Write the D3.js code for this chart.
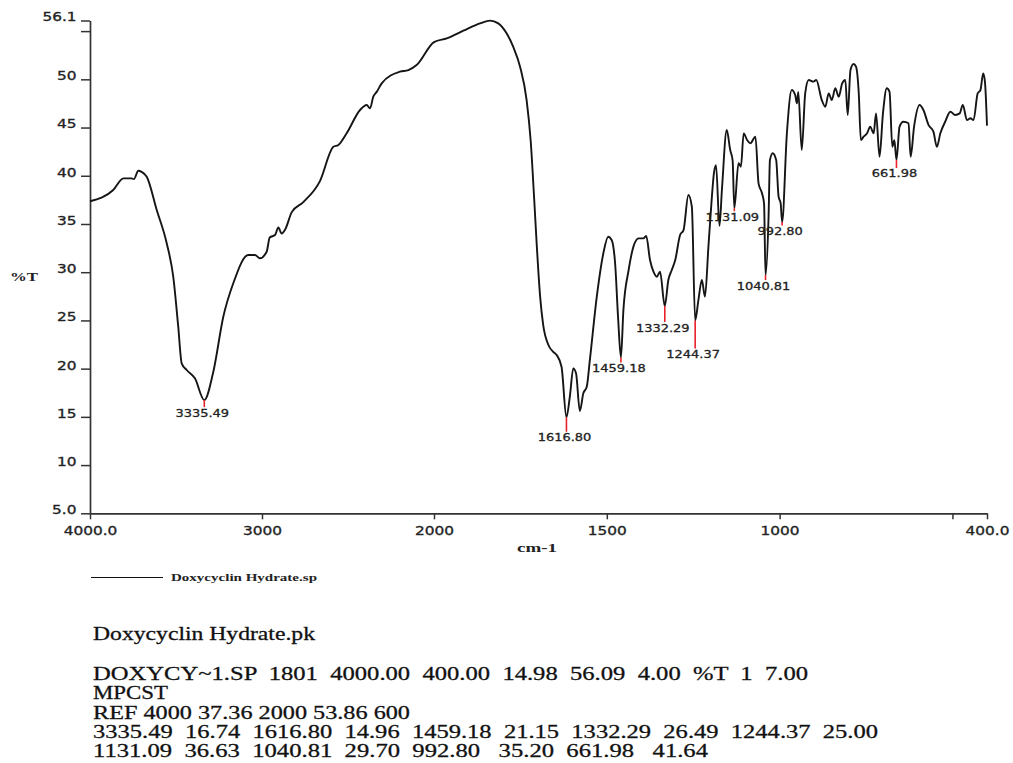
<!DOCTYPE html>
<html><head><meta charset="utf-8">
<script src="https://cdn.jsdelivr.net/npm/d3@7"></script>
<style>body{margin:0;background:#fff} svg{display:block} text{white-space:pre}</style>
</head><body><svg id="c" width="1013" height="763"></svg>
<script>
// ---- data ----
const wavenumbers = [
  4000, 3865, 3806, 3758, 3745, 3719, 3700, 3670, 3612, 3554,
  3516, 3487, 3467, 3438, 3390, 3335.49, 3283, 3225, 3167, 3080,
  3041, 3012, 2973, 2955, 2924, 2905, 2886, 2866, 2827, 2760, 2663,
  2585, 2556, 2508, 2430, 2391, 2372, 2353, 2333, 2304, 2198,
  2149, 2101, 2000, 1963, 1915, 1867, 1838, 1814, 1790, 1771,
  1751, 1732, 1720, 1710, 1703, 1693, 1684, 1669, 1655, 1645,
  1631, 1616.80, 1607, 1597, 1589, 1578, 1568, 1558, 1549, 1529,
  1510, 1496, 1486, 1476, 1467, 1459.18, 1452, 1437, 1423, 1408,
  1394, 1386, 1375, 1365, 1355, 1346, 1332.29, 1322, 1312, 1302,
  1288, 1278, 1264, 1254, 1244.37, 1235, 1225, 1216, 1206, 1196,
  1190, 1184, 1174, 1167, 1153, 1143, 1136, 1131.09, 1119, 1112,
  1104, 1094, 1085, 1070, 1061, 1051, 1045, 1040.81, 1032, 1028,
  1020, 1010, 1003, 997, 992.80, 979, 965, 955, 950, 946,
  936, 926, 916, 902, 894, 878, 868, 858, 849, 839,
  829, 819, 810, 803, 795, 786, 779, 771, 765, 757,
  747, 738, 728, 721, 711, 701, 690, 682, 674, 668,
  661.98, 653, 642, 627, 621, 611, 595, 584, 569, 555,
  545, 535, 521, 506, 492, 479, 470, 458, 448, 439,
  427, 419, 411, 406, 400
];
const transmittance = [
  37.36, 38.52, 39.73, 39.73, 39.65, 40.52, 40.40, 39.90, 36.45, 33.00,
  29.53, 24.35, 20.55, 19.86, 19.00, 16.74, 19.68, 25.38, 28.85, 31.78,
  31.78, 31.44, 32.12, 33.60, 33.85, 34.64, 34.00, 34.40, 36.23, 37.27, 39.45,
  43.00, 43.19, 44.40, 46.82, 47.34, 46.99, 48.20, 48.70, 49.58, 50.79,
  50.96, 51.48, 53.86, 54.25, 55.04, 55.80, 56.09, 55.80, 54.77, 53.38,
  51.31, 47.85, 43.50, 37.50, 33.00, 27.50, 24.50, 22.45, 21.75, 21.41,
  20.20, 14.96, 17.09, 20.03, 19.51, 15.60, 17.44, 18.12, 20.90, 27.46,
  31.96, 33.68, 33.34, 30.93, 25.04, 21.15, 26.08, 30.20, 32.65, 33.51,
  33.51, 33.75, 31.26, 30.05, 29.53, 30.05, 26.49, 29.19, 30.23, 31.26,
  33.86, 34.37, 38.00, 36.79, 25.00, 27.11, 29.19, 27.46, 32.65, 37.83,
  40.30, 41.10, 34.80, 38.52, 44.74, 42.67, 41.60, 36.63, 41.30, 40.94,
  44.40, 43.70, 43.36, 44.05, 39.22, 38.18, 37.10, 29.70, 35.76, 41.63,
  42.33, 41.63, 37.83, 37.14, 35.20, 44.40, 48.89, 48.37, 47.51, 48.70,
  42.67, 48.54, 49.93, 49.76, 49.93, 47.85, 47.16, 48.54, 47.85, 49.07,
  48.20, 49.58, 49.93, 46.30, 50.96, 51.59, 51.31, 48.54, 43.70, 44.05,
  44.40, 45.09, 44.40, 46.47, 41.97, 46.47, 49.07, 48.70, 43.00, 43.70,
  41.64, 45.09, 45.60, 45.44, 41.97, 45.09, 47.34, 46.82, 45.26, 44.57,
  43.00, 44.40, 45.60, 46.64, 46.30, 46.47, 47.34, 45.78, 45.96, 45.78,
  48.54, 48.89, 50.62, 49.76, 45.20
];
const peakWavenumbers = [3335.49, 1616.80, 1459.18, 1332.29, 1244.37, 1131.09, 1040.81, 992.80, 661.98];
const peakTransmittance = [16.74, 14.96, 21.15, 26.49, 25.00, 36.63, 29.70, 35.20, 41.64];
const peakLabels = ["3335.49", "1616.80", "1459.18", "1332.29", "1244.37", "1131.09", "1040.81", "992.80", "661.98"];
const xTickValues = [4000, 3000, 2000, 1500, 1000, 500, 400];
const xTickLabels = ["4000.0", "3000", "2000", "1500", "1000", "", "400.0"];
const yTickValues = [56.1, 55, 50, 45, 40, 35, 30, 25, 20, 15, 10, 5];
const yTickLabels = ["56.1", "", "50", "45", "40", "35", "30", "25", "20", "15", "10", "5.0"];
const seriesName = "Doxycyclin Hydrate.sp";
const reportTitle = "Doxycyclin Hydrate.pk";
const reportLines = [
  "DOXYCY~1.SP  1801  4000.00  400.00  14.98  56.09  4.00  %T  1  7.00",
  "MPCST",
  "REF 4000 37.36 2000 53.86 600",
  "3335.49  16.74  1616.80  14.96  1459.18  21.15  1332.29  26.49  1244.37  25.00",
  "1131.09  36.63  1040.81  29.70  992.80   35.20  661.98   41.64"
];

// ---- layout (not data) ----
const peakTickLen = [7, 14.5, 5, 16, 28, 3, 5, 3.5, 8];
const reportWidths = [715, 75, 317, 785, 615];
const reportBaselines = [680, 699, 718.5, 738, 757];

const svg = d3.select("#c");
const x = d3.scaleLinear().domain([4000, 2000, 400]).range([90, 434, 987]);
const y = d3.scaleLinear().domain([5, 56.1]).range([513.3, 20.5]);
const axisColor = "#333";
const SX = 1.18;

function thicken(sel, w) {
  sel.attr("stroke", "#222").attr("stroke-width", w).attr("paint-order", "stroke");
}

// Y axis
const gy = svg.append("g").attr("transform", "translate(90,0)")
  .call(d3.axisLeft(y).tickValues(yTickValues).tickSize(9).tickSizeOuter(0)
    .tickFormat((d, i) => yTickLabels[i]));
gy.select(".domain").attr("stroke", axisColor).attr("stroke-width", 1.7);
gy.selectAll(".tick line").attr("stroke", axisColor).attr("stroke-width", 1.5);
gy.selectAll(".tick text")
  .attr("x", 0).attr("dy", "0.03em")
  .attr("transform", `translate(-13.5,0) scale(${SX},1)`)
  .attr("font-family", "DejaVu Sans").attr("font-size", 13).attr("fill", "#222")
  .call(thicken, 0.35);

// X axis
const gx = svg.append("g").attr("transform", "translate(0,513.3)")
  .call(d3.axisBottom(x).tickValues(xTickValues).tickSize(6).tickSizeOuter(0)
    .tickFormat((d, i) => xTickLabels[i]));
gx.select(".domain").attr("stroke", axisColor).attr("stroke-width", 1.7);
gx.selectAll(".tick line").attr("stroke", axisColor).attr("stroke-width", 1.5);
gx.selectAll(".tick text")
  .attr("y", 0).attr("dy", 0)
  .attr("transform", `translate(0,21.7) scale(${SX},1)`)
  .attr("font-family", "DejaVu Sans").attr("font-size", 13).attr("fill", "#222")
  .call(thicken, 0.35);

// axis titles
svg.append("text").attr("x", 10).attr("y", 281).text("%T")
  .attr("font-family", "Liberation Serif").attr("font-weight", "bold").attr("font-size", 13)
  .attr("textLength", 28).attr("lengthAdjust", "spacingAndGlyphs").attr("fill", "#222");
svg.append("text").attr("x", 517).attr("y", 551.5).text("cm-1")
  .attr("font-family", "Liberation Serif").attr("font-weight", "bold").attr("font-size", 13)
  .attr("textLength", 40).attr("lengthAdjust", "spacingAndGlyphs").attr("fill", "#222");

// spectrum
const pts = wavenumbers.map((w, i) => [w, transmittance[i]]);
const line = d3.line().x(d => x(d[0])).y(d => y(d[1])).curve(d3.curveMonotoneX);
svg.append("path").datum(pts).attr("d", line)
  .attr("fill", "none").attr("stroke", "#151515").attr("stroke-width", 1.9)
  .attr("stroke-linejoin", "round");

// peak markers
const peaks = peakWavenumbers.map((w, i) => ({ w, t: peakTransmittance[i], label: peakLabels[i], len: peakTickLen[i] }));
const pg = svg.append("g");
pg.selectAll("line").data(peaks).join("line")
  .attr("x1", d => x(d.w)).attr("x2", d => x(d.w))
  .attr("y1", d => y(d.t)).attr("y2", d => y(d.t) + d.len)
  .attr("stroke", "#e8202a").attr("stroke-width", 1.6);
pg.selectAll("text").data(peaks).join("text")
  .attr("text-anchor", "middle")
  .attr("transform", d => `translate(${x(d.w) - 2},${y(d.t) + d.len + 9.5}) scale(${SX},1)`)
  .attr("font-family", "DejaVu Sans").attr("font-size", 11).attr("fill", "#222")
  .text(d => d.label)
  .call(thicken, 0.3);

// legend
svg.append("line").attr("x1", 91).attr("x2", 163).attr("y1", 577.5).attr("y2", 577.5)
  .attr("stroke", "#111").attr("stroke-width", 1.2);
svg.append("text").attr("x", 171).attr("y", 581).text(seriesName)
  .attr("font-family", "Liberation Serif").attr("font-weight", "bold").attr("font-size", 11)
  .attr("textLength", 146).attr("lengthAdjust", "spacingAndGlyphs").attr("fill", "#222");

// report block
svg.append("text").attr("x", 93).attr("y", 640).text(reportTitle)
  .attr("font-family", "Liberation Serif").attr("font-size", 19)
  .attr("textLength", 222).attr("lengthAdjust", "spacingAndGlyphs").attr("fill", "#111")
  .call(thicken, 0.3);
svg.append("g").selectAll("text").data(reportLines).join("text")
  .attr("x", 93).attr("y", (d, i) => reportBaselines[i])
  .attr("font-family", "Liberation Serif").attr("font-size", 19)
  .attr("textLength", (d, i) => reportWidths[i]).attr("lengthAdjust", "spacingAndGlyphs")
  .attr("fill", "#111")
  .text(d => d)
  .call(thicken, 0.3);
</script></body></html>
